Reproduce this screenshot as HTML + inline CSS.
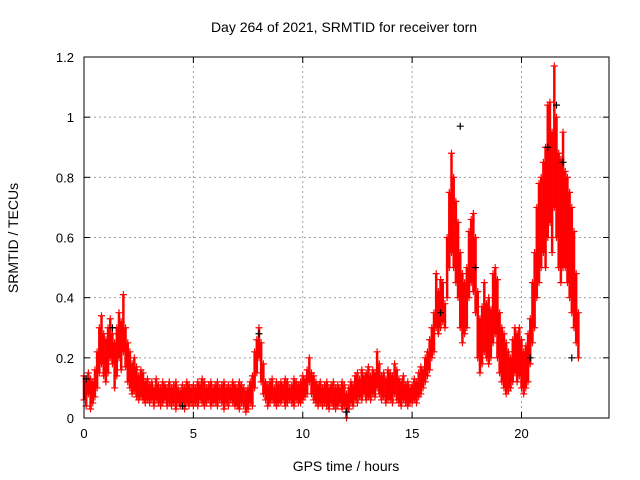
<!DOCTYPE html>
<html><head><meta charset="utf-8"><style>
body{margin:0;background:#fff;}
svg{display:block;font-family:"Liberation Sans",sans-serif;}
</style></head><body>
<svg id="chart" width="640" height="480">
<text x="344" y="32" text-anchor="middle" font-size="14">Day 264 of 2021, SRMTID for receiver torn</text>
<text x="346" y="471" text-anchor="middle" font-size="14">GPS time / hours</text>
<text transform="translate(18,238) rotate(-90)" text-anchor="middle" font-size="14">SRMTID / TECUs</text>
<g id="grid"></g><g id="marks"></g><g id="axes"></g>
</svg>
<script>
const startHour = 0, stepHour = 0.1;
const xTicks = [0,5,10,15,20];
const yTicks = [0,0.2,0.4,0.6,0.8,1,1.2];
const yTickLabels = ["0","0.2","0.4","0.6","0.8","1","1.2"];
const upperValues = [
.14,.12,.15,.13,.12,.16,.22,.3,.34,.28,
.26,.3,.33,.28,.25,.3,.35,.32,.41,.3,
.25,.22,.18,.2,.17,.14,.16,.15,.12,.13,
.11,.12,.1,.13,.11,.1,.12,.11,.1,.12,
.1,.11,.12,.1,.09,.11,.1,.12,.11,.1,
.11,.1,.12,.11,.13,.12,.1,.11,.12,.1,
.11,.12,.1,.11,.12,.1,.11,.1,.12,.11,
.1,.12,.11,.1,.09,.1,.12,.14,.22,.26,
.3,.25,.18,.12,.11,.12,.13,.1,.12,.11,
.12,.11,.13,.12,.1,.11,.13,.12,.11,.12,
.14,.13,.16,.2,.15,.14,.12,.11,.12,.1,
.11,.12,.1,.11,.12,.1,.11,.1,.12,.11,
.08,.1,.12,.11,.14,.15,.13,.16,.14,.15,
.17,.14,.16,.15,.22,.18,.14,.15,.13,.16,
.15,.14,.18,.16,.13,.12,.14,.11,.12,.1,
.11,.13,.12,.15,.17,.16,.2,.22,.26,.3,
.35,.48,.42,.46,.45,.38,.6,.75,.88,.8,
.72,.65,.55,.48,.45,.5,.62,.66,.68,.6,
.42,.33,.37,.45,.38,.4,.36,.48,.5,.46,
.35,.3,.28,.25,.22,.2,.26,.3,.28,.3,
.26,.22,.24,.28,.33,.45,.55,.7,.78,.8,
.85,.9,1.04,1.05,.95,1.17,1.0,.88,.86,.95,
.82,.8,.75,.7,.62,.48,.35];
const lowerValues = [
.06,.04,.08,.03,.05,.07,.1,.15,.18,.14,
.12,.15,.2,.18,.1,.14,.2,.16,.22,.17,
.12,.1,.08,.09,.07,.06,.07,.06,.05,.06,
.05,.06,.04,.06,.05,.04,.05,.06,.04,.05,
.04,.05,.03,.05,.04,.05,.03,.05,.04,.05,
.04,.05,.04,.06,.05,.04,.05,.06,.04,.05,
.05,.04,.06,.05,.03,.05,.04,.06,.05,.04,
.04,.03,.05,.04,.02,.03,.05,.04,.1,.15,
.2,.12,.08,.06,.04,.05,.06,.05,.04,.05,
.05,.06,.04,.05,.06,.05,.04,.06,.05,.05,
.06,.07,.08,.12,.08,.06,.05,.04,.05,.04,
.05,.04,.03,.05,.04,.03,.04,.05,.03,.04,
0,.03,.05,.04,.06,.05,.07,.06,.08,.06,
.07,.06,.08,.07,.1,.08,.06,.07,.05,.06,
.06,.05,.08,.06,.05,.04,.06,.05,.04,.05,
.05,.06,.05,.07,.08,.1,.12,.14,.16,.2,
.22,.3,.28,.3,.32,.3,.4,.5,.55,.5,
.45,.4,.3,.25,.28,.3,.4,.45,.42,.35,
.2,.15,.18,.22,.2,.18,.2,.25,.28,.2,
.15,.12,.1,.08,.09,.1,.12,.15,.12,.14,
.1,.08,.1,.12,.18,.25,.3,.4,.45,.5,
.55,.5,.6,.65,.55,.7,.6,.5,.45,.5,
.5,.45,.4,.35,.3,.25,.2];
const blackTimes = [0.1,1.3,4.5,8.0,12.0,16.3,17.2,17.9,20.4,21.2,21.6,21.9,22.3];
const blackValues = [0.13,0.3,0.04,0.28,0.02,0.35,0.97,0.5,0.2,0.9,1.04,0.85,0.2];

const X0=84,X1=609,Y0=418,Y1=57;
const xs=h=>X0+(h/24)*(X1-X0);
const ys=v=>Y0-(v/1.2)*(Y0-Y1);
const NS="http://www.w3.org/2000/svg";
const grid=document.getElementById('grid'),marks=document.getElementById('marks'),axes=document.getElementById('axes');
function mk(tag,attrs,parent){const e=document.createElementNS(NS,tag);for(const k in attrs)e.setAttribute(k,attrs[k]);parent.appendChild(e);return e;}
xTicks.forEach(t=>{
  if(t>0){const g=mk('line',{x1:xs(t),x2:xs(t),y1:Y0,y2:Y1,stroke:'#a0a0a0','stroke-dasharray':'2,3'},grid);
  
  }
  const tk=mk('line',{x1:xs(t),x2:xs(t),y1:Y0,y2:Y0-6,stroke:'#000'},axes);
  
  
  const tt=mk('line',{x1:xs(t),x2:xs(t),y1:Y1,y2:Y1+6,stroke:'#000'},axes);
  
  
  const l=mk('text',{x:xs(t),y:Y0+20,'text-anchor':'middle','font-size':'13'},axes);l.textContent=String(t);
  
  
});
yTicks.forEach((t,i)=>{
  if(t>0&&t<1.2){const g=mk('line',{x1:X0,x2:X1,y1:ys(t),y2:ys(t),stroke:'#a0a0a0','stroke-dasharray':'2,3'},grid);
  
  }
  const tk=mk('line',{x1:X0,x2:X0+6,y1:ys(t),y2:ys(t),stroke:'#000'},axes);
  
  
  const tr=mk('line',{x1:X1,x2:X1-6,y1:ys(t),y2:ys(t),stroke:'#000'},axes);
  
  
  const l=mk('text',{x:X0-10,y:ys(t)+5,'text-anchor':'end','font-size':'13'},axes);l.textContent=yTickLabels[i];
  
  
});
const box=mk('rect',{x:X0,y:Y1,width:X1-X0,height:Y0-Y1,fill:'none',stroke:'#000'},axes);


function plus(h,v,col,name){
  const x=xs(h),y=ys(v);
  const p=mk('path',{d:`M${x-3.5},${y}h7M${x},${y-3.5}v7`,stroke:col,'stroke-width':'1.2',fill:'none'},marks);
  
  
}
upperValues.forEach((v,i)=>{
  const h=startHour+i*stepHour, lo=lowerValues[i];
  const s=mk('line',{x1:xs(h),x2:xs(h),y1:ys(lo),y2:ys(v),stroke:'#f00','stroke-width':'2.5'},marks);
  
  
  plus(h,v,'#f00','point-upper');
  plus(h,lo,'#f00','point-lower');
});
blackTimes.forEach((h,i)=>plus(h,blackValues[i],'#000','point-black'));
</script>
</body></html>
